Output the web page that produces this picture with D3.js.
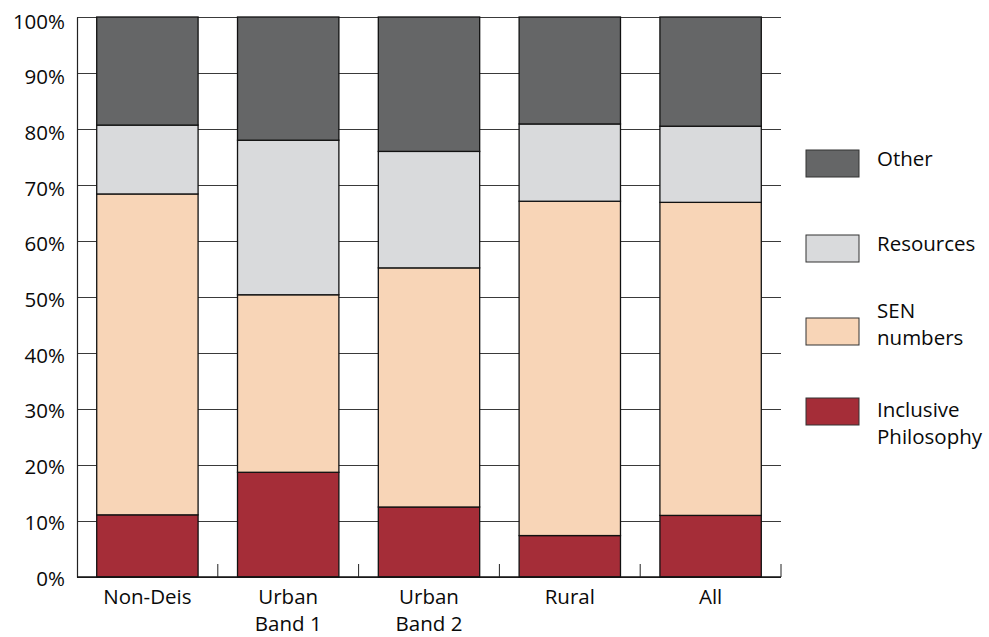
<!DOCTYPE html>
<html><head><meta charset="utf-8">
<script src="https://cdn.jsdelivr.net/npm/d3@7"></script>
<style>
body{margin:0;background:#fff;}
svg text{font-family:"Open Sans",sans-serif;fill:#0a0a0a;}
</style></head>
<body><svg id="c" width="989" height="637"></svg>
<script>
const categories = ["Non-Deis", "Urban Band 1", "Urban Band 2", "Rural", "All"];
const categoryLines = [["Non-Deis"], ["Urban", "Band 1"], ["Urban", "Band 2"], ["Rural"], ["All"]];
const seriesNames = ["Inclusive Philosophy", "SEN numbers", "Resources", "Other"];
const legendLines = [["Inclusive", "Philosophy"], ["SEN", "numbers"], ["Resources"], ["Other"]];
const inclusive = [11.1, 18.7, 12.5, 7.4, 11.0];
const sen = [57.3, 31.7, 42.7, 59.7, 55.9];
const resources = [12.3, 27.6, 20.8, 13.8, 13.6];
const other = [19.3, 22.0, 24.0, 19.1, 19.5];
const colors = ["#a52d38", "#f8d5b7", "#d9dadc", "#656667"];
const yTicks = [0, 10, 20, 30, 40, 50, 60, 70, 80, 90, 100];

const svg = d3.select("#c");
const m = {l: 77, t: 17, r: 781, b: 577};
const x = d3.scaleBand().domain(categories).range([m.l, m.r]).paddingInner(0.28).paddingOuter(0.14);
const y = d3.scaleLinear().domain([0, 100]).range([m.b, m.t]);

// gridlines
svg.append("g").attr("transform", `translate(${m.l},0)`)
  .call(d3.axisLeft(y).tickValues(yTicks).tickSize(-(m.r - m.l)).tickFormat(""))
  .call(g => g.select(".domain").remove())
  .call(g => g.selectAll("line").attr("stroke", "#3a3a3a").attr("stroke-width", 1));

// stacked bars
const rows = categories.map((c, i) => ({cat: c, "Inclusive Philosophy": inclusive[i], "SEN numbers": sen[i], "Resources": resources[i], "Other": other[i]}));
const stack = d3.stack().keys(seriesNames)(rows);
stack.forEach((layer, li) => {
  svg.append("g").selectAll("rect").data(layer).join("rect")
    .attr("x", d => x(d.data.cat))
    .attr("width", x.bandwidth())
    .attr("y", d => y(d[1]))
    .attr("height", d => y(d[0]) - y(d[1]))
    .attr("fill", colors[li])
    .attr("stroke", "#111")
    .attr("stroke-width", 1.3);
});

// y axis labels
const yAxis = svg.append("g").attr("transform", `translate(${m.l},0)`)
  .call(d3.axisLeft(y).tickValues(yTicks).tickSize(0).tickPadding(12).tickFormat(d => d + "%"));
yAxis.select(".domain").attr("stroke", "#222").attr("stroke-width", 1.2);
yAxis.selectAll("text").style("font-family", '"Open Sans",sans-serif').style("font-size", "20.5px")
  .attr("fill", "#0a0a0a").attr("dy", "0.32em")
  .attr("y", d => 1.5 + 3 * d / 100);

// x axis line and ticks at category boundaries
const xAxis = svg.append("g").attr("transform", `translate(0,${m.b})`);
xAxis.append("line").attr("x1", m.l).attr("x2", m.r).attr("stroke", "#111").attr("stroke-width", 1.3);
const step = x.step();
xAxis.selectAll("line.tk").data(categories).join("line").attr("class", "tk")
  .attr("x1", d => x(d) - x.paddingOuter() * step + step).attr("x2", d => x(d) - x.paddingOuter() * step + step)
  .attr("y1", 0).attr("y2", -13).attr("stroke", "#222").attr("stroke-width", 1);
xAxis.selectAll("text").data(categories).join("text")
  .attr("text-anchor", "middle").style("font-size", "20.5px")
  .attr("transform", d => `translate(${x(d) + x.bandwidth() / 2},27)`)
  .each(function(d, i) {
    d3.select(this).selectAll("tspan").data(categoryLines[i]).join("tspan")
      .attr("x", 0).attr("dy", (t, j) => j === 0 ? 0 : 26.5).text(t => t);
  });

// legend
const swatchTop = [398, 318, 235, 150];
const textBase = [[417, 444], [318, 345], [251], [166]];
const lg = svg.append("g");
seriesNames.forEach((s, i) => {
  lg.append("rect").attr("x", 806).attr("y", swatchTop[i]).attr("width", 53).attr("height", 27)
    .attr("fill", colors[i]).attr("stroke", "#333").attr("stroke-width", 1);
  legendLines[i].forEach((line, j) => {
    lg.append("text").style("font-size", "20.5px").attr("x", 877).attr("y", textBase[i][j]).text(line);
  });
});
</script></body></html>
